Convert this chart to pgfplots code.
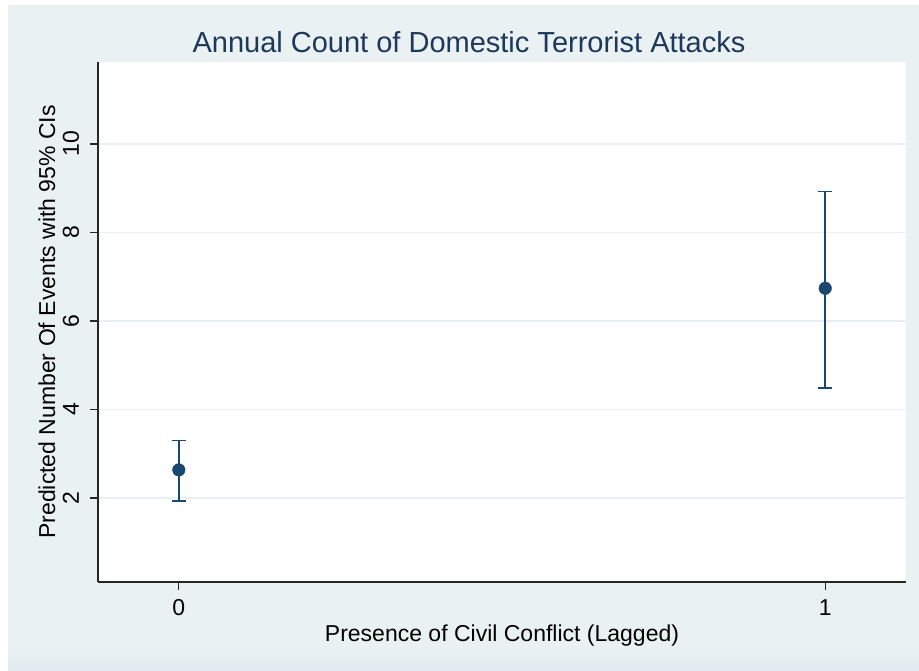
\documentclass[border=0pt]{standalone}
\usepackage{fontspec}
\setmainfont{Liberation Sans}
\usepackage{pgfplots}
\pgfplotsset{compat=1.18}
\definecolor{bg}{RGB}{234,241,243}
\definecolor{bgdark}{RGB}{224,233,237}
\definecolor{navy}{RGB}{26,71,111}
\definecolor{titlec}{RGB}{30,56,92}
\definecolor{gridc}{RGB}{234,240,242}
\begin{document}
\begin{tikzpicture}[x=1pt,y=1pt]
\fill[white] (0,0) rectangle (919,670);
\fill[bg] (8,0) rectangle (919,665);
\shade[top color=bg, bottom color=bgdark] (8,0) rectangle (919,22);
\begin{axis}[at={(98pt,88pt)}, anchor=south west, scale only axis,
  width=808pt, height=520pt,
  xmin=-0.125, xmax=1.125, ymin=0.1, ymax=11.85,
  xtick={0,1}, ytick={2,4,6,8,10},
  axis x line*=bottom, axis y line*=left,
  axis line style={line width=1.3pt, color=black!85},
  tick align=outside, major tick length=8pt,
  tick style={line width=1.3pt, color=black!85},
  ymajorgrids, grid style={gridc, line width=1.3pt},
  axis background/.style={fill=white},
  tick label style={font=\fontsize{23}{23}\selectfont, inner sep=0pt},
  /pgf/number format/assume math mode=true,
  xticklabel style={anchor=base, yshift=-25pt},
  yticklabel style={xshift=-11pt, rotate=90, anchor=base},
  every axis x label/.style={at={(axis description cs:0.5,0)}, anchor=base, yshift=-59pt, font=\fontsize{23}{23}\selectfont, inner sep=0pt},
  every axis y label/.style={at={(axis description cs:-0.0532,0.5)}, rotate=90, anchor=base, font=\fontsize{23}{23}\selectfont, inner sep=0pt},
  xlabel={Presence of Civil Conflict (Lagged)},
  ylabel={Predicted Number Of Events with 95\% CIs},
  clip=false,
]
\addplot[only marks, mark=*, mark size=6.3pt, color=navy,
  mark options={fill=navy, draw=navy},
  error bars/.cd, y dir=both, y explicit,
  error bar style={line width=1.7pt, navy},
  error mark options={rotate=90, mark size=7pt, line width=1.7pt, navy}]
coordinates {
  (0,2.633) += (0,0.662) -= (0,0.703)
  (1,6.737) += (0,2.188) -= (0,2.257)
};
\end{axis}
\node[anchor=base, text=titlec, font=\fontsize{29}{29}\selectfont, inner sep=0pt] at (469,617) {Annual Count of Domestic Terrorist Attacks};
\useasboundingbox (0,0) rectangle (919,670);
\end{tikzpicture}
\end{document}
